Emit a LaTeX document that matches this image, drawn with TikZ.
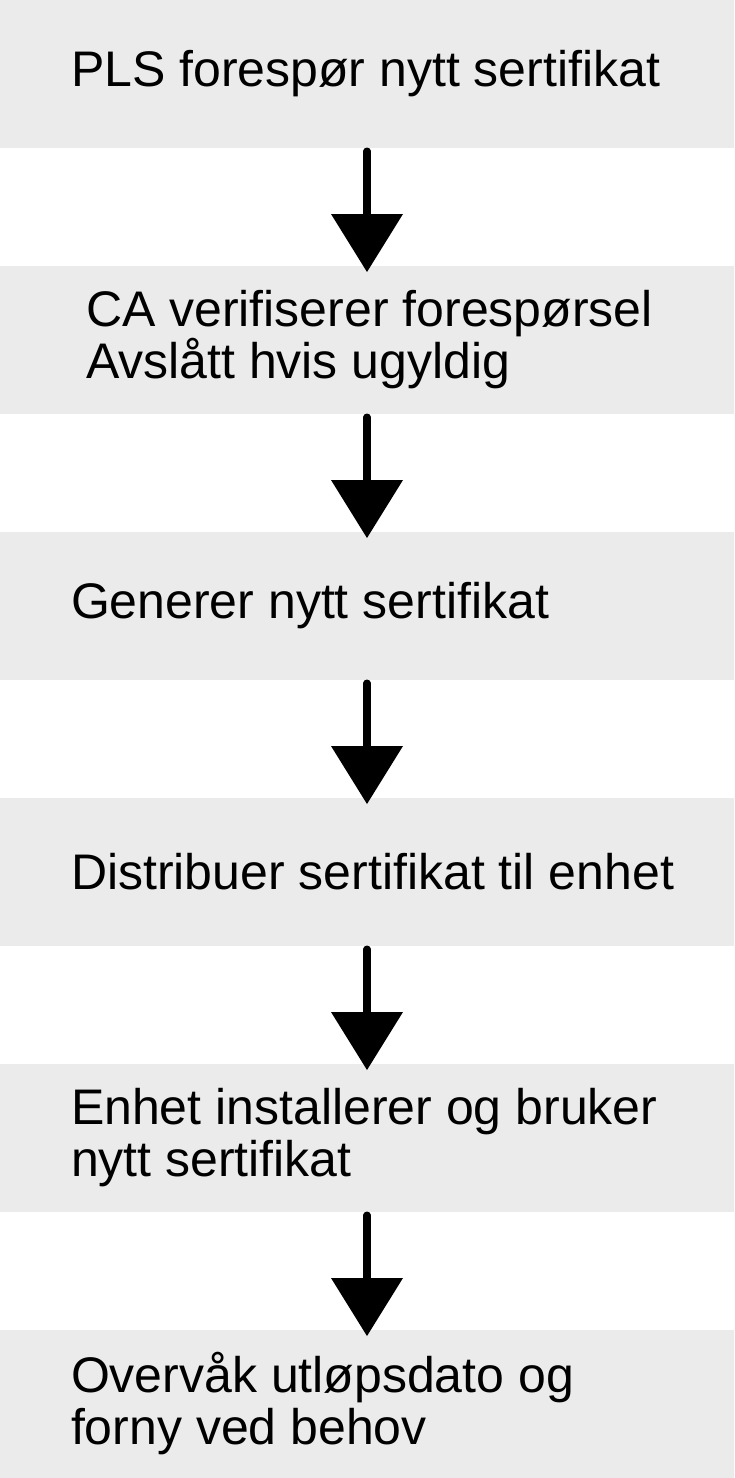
\documentclass[tikz,border=0pt]{standalone}
\usepackage{fontspec}
\setmainfont{Liberation Sans}
\usepackage{tikz}
\usetikzlibrary{arrows.meta}
\definecolor{Ink}{HTML}{000000}
\definecolor{Panel}{HTML}{EBEBEB}

\begin{document}
\begin{tikzpicture}[
  x=1pt, y=1pt,
  font=\fontsize{50}{52}\selectfont,
  stage/.style={fill=Panel, draw=none, text=Ink, minimum width=734pt, minimum height=147.5pt, inner xsep=71pt, inner ysep=0pt, outer sep=0pt, text width=592pt, align=flush left},
  arrow/.style={-{Triangle[width=72pt, length=58pt, line width=0pt]}, line width=7.5pt, line cap=round, draw=Ink, shorten <=3.75pt, shorten >=-6pt}
]
\useasboundingbox (0,0) rectangle (734,-1478);

\node[stage] (request) at (367,-73.75) {PLS forespør nytt sertifikat};
\node[stage, inner xsep=86pt, text width=562pt] (verify) at (367,-339.75) {\mbox{CA verifiserer forespørsel}\\Avslått hvis ugyldig};
\node[stage] (generate) at (367,-605.75) {Generer nytt sertifikat};
\node[stage] (distribute) at (367,-871.75) {\mbox{Distribuer sertifikat til enhet}};
\node[stage] (install) at (367,-1137.75) {Enhet installerer og bruker\\nytt sertifikat};
\node[stage] (monitor) at (367,-1403.75) {Overvåk utløpsdato og\\forny ved behov};

\draw[arrow] (request) -- (verify);
\draw[arrow] (verify) -- (generate);
\draw[arrow] (generate) -- (distribute);
\draw[arrow] (distribute) -- (install);
\draw[arrow] (install) -- (monitor);
\end{tikzpicture}
\end{document}
